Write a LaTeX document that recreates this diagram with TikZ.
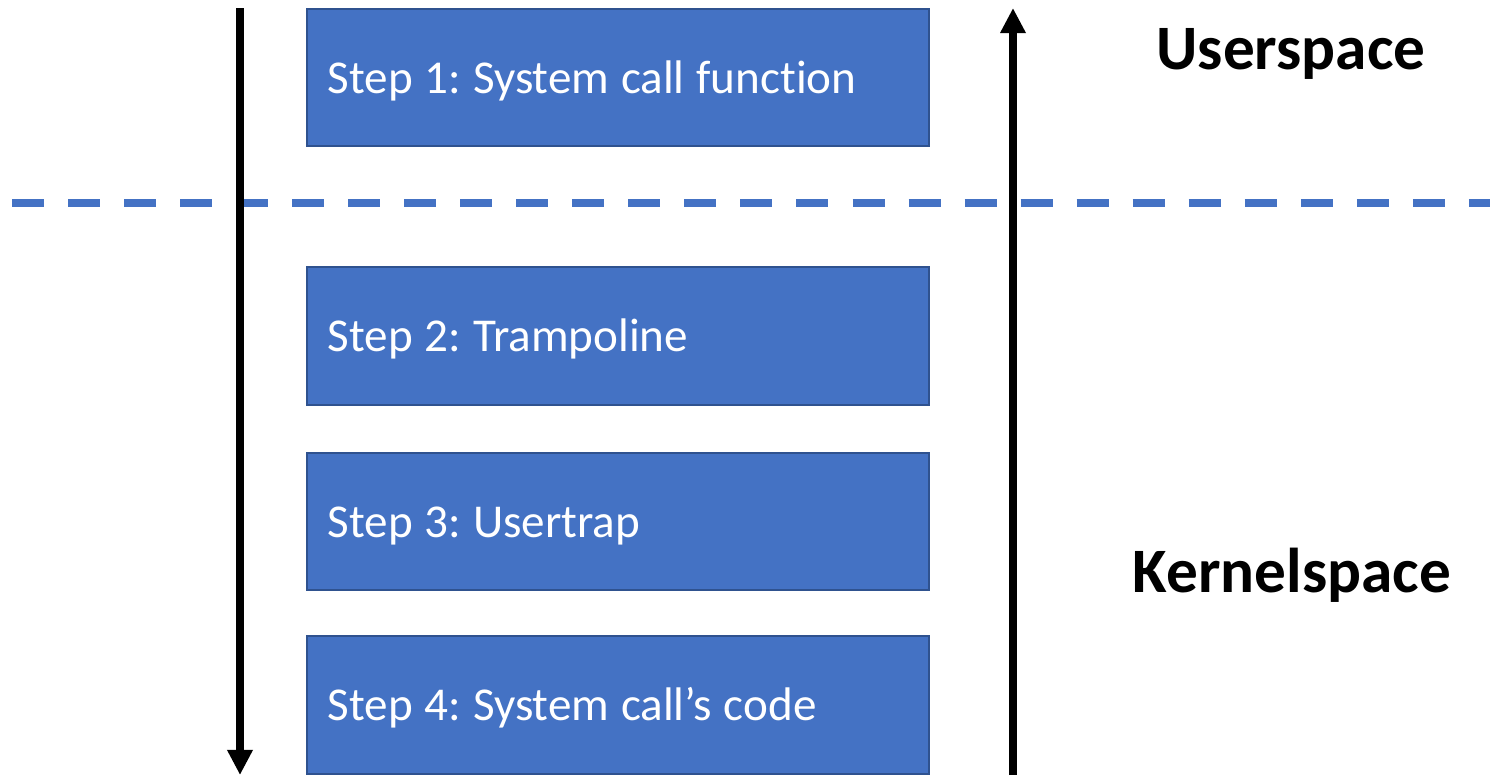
\documentclass[tikz,border=0pt]{standalone}
\usepackage{fontspec}
\setmainfont{Carlito}[Ligatures=NoCommon]
\usepackage{tikz}
\usetikzlibrary{arrows.meta,positioning}
\definecolor{stepblue}{HTML}{4472C4}
\definecolor{stepedge}{HTML}{2F528F}
\tikzset{
	stepbox/.style={fill=stepblue, draw=stepedge, line width=0.02cm,
		minimum width=6.22cm, minimum height=1.37cm, text width=5.80cm,
		inner xsep=0.21cm, align=left, text=white,
		text height=0.36cm, text depth=0.05cm,
		font=\fontsize{13.4}{15}\selectfont,
		execute at begin node={\frenchspacing\spaceskip=0.25em\relax}},
	spacelabel/.style={font=\fontsize{18}{20}\selectfont\bfseries},
	flow/.style={line width=0.08cm, -{Triangle[width=0.24cm,length=0.25cm]}}
}
\begin{document}
\begin{tikzpicture}[x=0.01cm,y=-0.01cm]
\useasboundingbox (0,0) rectangle (1490,775);
%boundary
\draw[stepblue, line width=0.08cm, dash pattern=on 0.32cm off 0.24cm] (12,203) -- (1490,203);
%steps
\node[stepbox] (s1) at (618,77.5) {Step 1: System call function};
\node[stepbox] (s2) at (618,336) {Step 2: Trampoline};
\node[stepbox] (s3) at (618,521.5) {Step 3: Usertrap};
\node[stepbox] (s4) at (618,705) {Step 4: System call's code};
%labels
\node[spacelabel] (user) at (1291,54) {Userspace};
\node[spacelabel] (kernel) at (1292,575) {Kernelspace};
%calls down and back
\coordinate (downtop) at (240,8);
\coordinate (downend) at (240,775);
\coordinate (upbot) at (1013,775);
\coordinate (uptop) at (1013,8);
\draw[flow] (downtop) -- (downend);
\draw[flow] (upbot) -- (uptop);
\end{tikzpicture}
\end{document}
